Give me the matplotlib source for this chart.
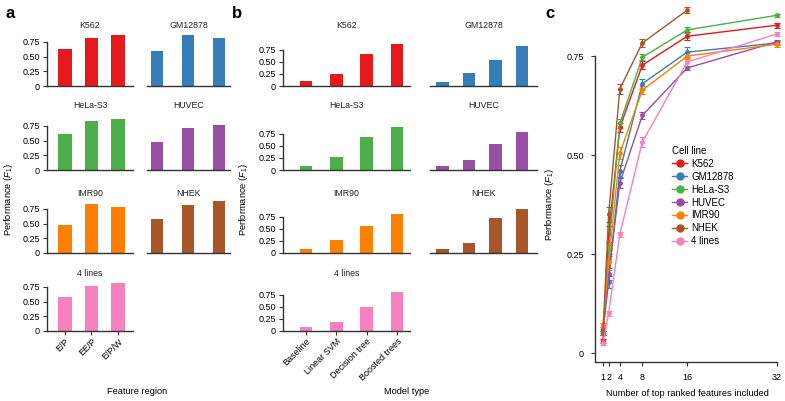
import numpy as np
import matplotlib
matplotlib.use("Agg")
import matplotlib.pyplot as plt
from matplotlib.lines import Line2D

plt.rcParams['font.family'] = ['Liberation Sans', 'DejaVu Sans']
plt.rcParams['mathtext.fontset'] = 'custom'
plt.rcParams['mathtext.rm'] = 'Liberation Sans'
plt.rcParams['mathtext.it'] = 'Liberation Sans:italic'
plt.rcParams['font.size'] = 7

# ---------------- data ----------------
cell_lines = ["K562", "GM12878", "HeLa-S3", "HUVEC", "IMR90", "NHEK", "4 lines"]
colors = ["#e41a1c", "#377eb8", "#4daf4a", "#984ea3", "#ff7f00", "#a65628", "#f781bf"]

feature_regions = ["E/P", "EE/P", "E/P/W"]
a_K562 = [0.62, 0.82, 0.86]
a_GM12878 = [0.60, 0.86, 0.82]
a_HeLa = [0.61, 0.83, 0.87]
a_HUVEC = [0.48, 0.71, 0.77]
a_IMR90 = [0.47, 0.83, 0.78]
a_NHEK = [0.58, 0.82, 0.88]
a_4lines = [0.57, 0.77, 0.81]

model_types = ["Baseline", "Linear SVM", "Decision tree", "Boosted trees"]
b_K562 = [0.10, 0.24, 0.67, 0.88]
b_GM12878 = [0.09, 0.26, 0.53, 0.83]
b_HeLa = [0.083, 0.26, 0.68, 0.89]
b_HUVEC = [0.09, 0.21, 0.53, 0.78]
b_IMR90 = [0.083, 0.28, 0.56, 0.80]
b_NHEK = [0.076, 0.20, 0.72, 0.91]
b_4lines = [0.089, 0.18, 0.50, 0.80]

n_features = [1, 2, 4, 8, 16, 32]
c_K562 = [0.03, 0.30, 0.57, 0.727, 0.80, 0.828]
c_GM12878 = [0.055, 0.18, 0.46, 0.68, 0.76, 0.783]
c_HeLa = [0.05, 0.26, 0.58, 0.747, 0.816, 0.853]
c_HUVEC = [0.06, 0.20, 0.43, 0.60, 0.72, 0.786]
c_IMR90 = [0.07, 0.23, 0.505, 0.664, 0.75, 0.78]
c_NHEK = [0.05, 0.35, 0.667, 0.783, 0.866, np.nan]
c_4lines = [0.025, 0.10, 0.30, 0.533, 0.735, 0.806]
c_err_K562 = [0.005, 0.02, 0.012, 0.01, 0.01, 0.006]
c_err_GM12878 = [0.005, 0.015, 0.015, 0.012, 0.012, 0.006]
c_err_HeLa = [0.005, 0.015, 0.012, 0.008, 0.008, 0.004]
c_err_HUVEC = [0.005, 0.015, 0.012, 0.008, 0.006, 0.005]
c_err_IMR90 = [0.005, 0.02, 0.015, 0.01, 0.008, 0.006]
c_err_NHEK = [0.005, 0.02, 0.012, 0.01, 0.008, np.nan]
c_err_4lines = [0.004, 0.006, 0.006, 0.012, 0.01, 0.005]

a_vals = [a_K562, a_GM12878, a_HeLa, a_HUVEC, a_IMR90, a_NHEK, a_4lines]
b_vals = [b_K562, b_GM12878, b_HeLa, b_HUVEC, b_IMR90, b_NHEK, b_4lines]
c_vals = [c_K562, c_GM12878, c_HeLa, c_HUVEC, c_IMR90, c_NHEK, c_4lines]
c_errs = [c_err_K562, c_err_GM12878, c_err_HeLa, c_err_HUVEC, c_err_IMR90, c_err_NHEK, c_err_4lines]

# ---------------- figure ----------------
W, H = 785, 401
fig = plt.figure(figsize=(W / 100, H / 100), dpi=100)
SPINE = "#333333"
TICK_FS = 6.5
TITLE_FS = 6.3
LABEL_FS = 6.7


def px_axes(left, top, right, bottom):
    return fig.add_axes([left / W, 1 - bottom / H, (right - left) / W, (bottom - top) / H])


def style_bar_axes(ax, show_y):
    for s in ["top", "right"]:
        ax.spines[s].set_visible(False)
    ax.spines["bottom"].set_color(SPINE)
    ax.spines["bottom"].set_linewidth(1.0)
    ax.tick_params(axis="x", length=0, labelbottom=False)
    if show_y:
        ax.spines["left"].set_color(SPINE)
        ax.spines["left"].set_linewidth(1.0)
        ax.spines["left"].set_bounds(0, 0.75)
        ax.set_yticks([0, 0.25, 0.5, 0.75])
        ax.set_yticklabels(["0", "0.25", "0.50", "0.75"])
        ax.tick_params(axis="y", length=3, width=0.8, color=SPINE, pad=2, labelsize=TICK_FS)
    else:
        ax.spines["left"].set_visible(False)
        ax.set_yticks([])


row_bottoms = [86, 170, 253, 331]
title_y = [26, 106, 193, 273]
ax_height = 53

a_cols = [(47, 133, (-0.68, 2.57), 0.5), (147, 230, (-0.32, 2.35), 0.39)]
b_cols = [(283, 410, (-0.76, 3.43), 0.42), (430, 537, (-0.48, 3.58), 0.47)]

for panel, cols, vals, cats, ymax in [("a", a_cols, a_vals, feature_regions, 0.9),
                                       ("b", b_cols, b_vals, model_types, 1.1)]:
    for i, (name, col, v) in enumerate(zip(cell_lines, colors, vals)):
        r, c = divmod(i, 2)
        left, right, xl, bw = cols[c]
        bottom = row_bottoms[r]
        ax = px_axes(left, bottom - ax_height, right, bottom)
        x = np.arange(len(cats))
        ax.bar(x, v, width=bw, color=col)
        ax.set_xlim(*xl)
        ax.set_ylim(0, ymax)
        style_bar_axes(ax, c == 0)
        fig.text((left + right) / 2 / W, 1 - title_y[r] / H, name, ha="center", va="center",
                 fontsize=TITLE_FS, color="#222222")
        if r == 3:
            ax.set_xticks(x)
            ax.tick_params(axis="x", length=3, width=0.8, color=SPINE, labelbottom=True, pad=1)
            ax.set_xticklabels(cats, rotation=45, ha="right", rotation_mode="anchor", fontsize=TICK_FS)

# axis labels for a and b
fig.text(137 / W, 1 - 392 / H, "Feature region", ha="center", va="center", fontsize=LABEL_FS)
fig.text(407 / W, 1 - 392 / H, "Model type", ha="center", va="center", fontsize=LABEL_FS)
fig.text(9 / W, 1 - 200 / H, r"Performance ($F_1$)", rotation=90, ha="center", va="center", fontsize=LABEL_FS)
fig.text(243 / W, 1 - 200 / H, r"Performance ($F_1$)", rotation=90, ha="center", va="center", fontsize=LABEL_FS)

# panel c
axc = px_axes(595, 3, 780, 362)
for name, col, v, e in zip(cell_lines, colors, c_vals, c_errs):
    axc.errorbar(n_features, v, yerr=e, color=col, marker="o", markersize=2.5,
                 linewidth=1.0, elinewidth=0.8, capsize=2, capthick=0.8, label=name)
axc.set_xlim(-0.425, 32.53)
axc.set_ylim(-0.0227, 0.884)
axc.set_xticks(n_features)
axc.set_xticklabels([str(n) for n in n_features])
axc.set_yticks([0, 0.25, 0.5, 0.75])
axc.set_yticklabels(["0", "0.25", "0.50", "0.75"])
for s in ["top", "right"]:
    axc.spines[s].set_visible(False)
for s in ["left", "bottom"]:
    axc.spines[s].set_color(SPINE)
    axc.spines[s].set_linewidth(1.0)
axc.spines["left"].set_bounds(-0.0227, 0.75)
axc.spines["bottom"].set_bounds(-0.425, 32)
axc.tick_params(length=3, width=0.8, color=SPINE, labelsize=TICK_FS, pad=5)
axc.set_xlabel("Number of top ranked features included", fontsize=LABEL_FS, labelpad=5)
fig.text(549 / W, 1 - 205 / H, r"Performance ($F_1$)", rotation=90, ha="center", va="center", fontsize=LABEL_FS)

handles = [Line2D([0], [0], color=c, marker="o", markersize=5, linewidth=1.0) for c in colors]
leg = fig.legend(handles, cell_lines, title="Cell line", loc="upper left",
                 bbox_to_anchor=(666 / W, 1 - 140 / H), bbox_transform=fig.transFigure,
                 frameon=False, fontsize=7, title_fontsize=7, handlelength=1.6,
                 handletextpad=0.4, labelspacing=0.3, borderpad=0.1, alignment="left")

# panel letters
fig.text(5 / W, 1 - 14 / H, "a", fontsize=12, fontweight="bold", va="center")
fig.text(232 / W, 1 - 13 / H, "b", fontsize=12, fontweight="bold", va="center")
fig.text(545 / W, 1 - 13 / H, "c", fontsize=12, fontweight="bold", va="center")

fig.savefig("out.png", dpi=100)
